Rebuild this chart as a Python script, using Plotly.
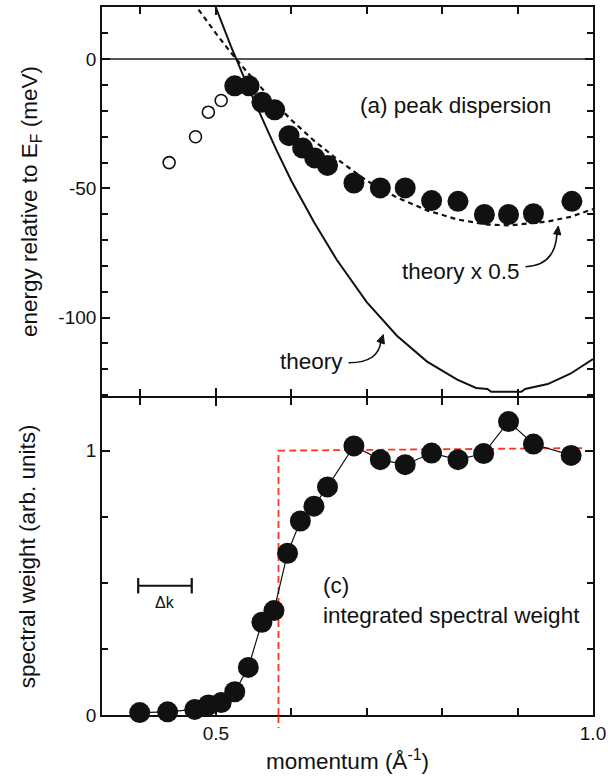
import plotly.graph_objects as go

# ---------------- data ----------------
# (a) peak dispersion: open circles (weak peaks) and filled circles
open_k = [0.438, 0.473, 0.490, 0.507]
open_E = [-40.0, -30.0, -20.5, -16.0]

peak_k = [0.525, 0.544, 0.561, 0.578, 0.597, 0.615, 0.631, 0.648, 0.683,
          0.718, 0.751, 0.786, 0.821, 0.856, 0.888, 0.921, 0.972]
peak_E = [-10.3, -10.3, -16.7, -19.6, -29.6, -34.4, -38.2, -41.1, -47.9,
          -49.8, -49.8, -54.7, -55.0, -60.1, -60.1, -59.8, -55.0]

# theory curve (solid)
theory_k = [0.49, 0.50, 0.52, 0.54, 0.56, 0.58, 0.60, 0.63, 0.66, 0.70, 0.74,
            0.78, 0.82, 0.845, 0.86, 0.865, 0.905, 0.91, 0.94, 0.97, 1.00]
theory_E = [28.0, 20.0, 5.0, -9.0, -22.0, -35.0, -47.0, -63.0, -77.5, -94.0, -107.0,
            -117.0, -124.0, -127.2, -127.6, -128.7, -128.7, -127.6, -125.7, -121.7, -116.0]

# theory x 0.5 curve (dashed)
half_k = [0.47, 0.50, 0.52, 0.54, 0.56, 0.58, 0.60, 0.63, 0.66, 0.70, 0.74,
          0.78, 0.82, 0.86, 0.89, 0.92, 0.94, 0.97, 1.00]
half_E = [22.0, 10.0, 2.5, -4.5, -11.0, -17.5, -23.5, -31.5, -38.5, -47.0, -53.5,
          -58.5, -62.0, -64.0, -64.3, -63.5, -62.8, -61.0, -58.0]

# (c) integrated spectral weight
weight_k = [0.399, 0.436, 0.472, 0.490, 0.507, 0.525, 0.543, 0.561, 0.577, 0.595, 0.612,
            0.630, 0.648, 0.683, 0.718, 0.751, 0.786, 0.821, 0.855, 0.888, 0.921, 0.971]
weight_w = [0.009, 0.012, 0.021, 0.038, 0.047, 0.088, 0.180, 0.351, 0.395, 0.612, 0.734,
            0.790, 0.863, 1.018, 0.966, 0.947, 0.991, 0.966, 0.989, 1.110, 1.025, 0.982]

# red dashed step function
step_k = [0.583, 0.583, 0.987]
step_w = [0.0, 1.00, 1.01]

# momentum resolution bar (Delta k)
dk_k = [0.397, 0.468]
dk_w = [0.489, 0.489]

# tick labels
x_tickvals = [0.5, 1.0]
x_ticktext = ["0.5", "1.0"]
e_tickvals = [-100, -50, 0]
e_ticktext = ["-100", "-50", "0"]
w_tickvals = [0, 1]
w_ticktext = ["0", "1"]

# ---------------- figure ----------------
FONT = "Liberation Sans, Arial, Helvetica, sans-serif"
BLACK = "#111111"
RED = "#ff3322"
W, H = 608, 776
ML, MR, MT, MB = 102, 15, 7, 61
PW, PH = W - ML - MR, H - MT - MB
LW = 1.6  # frame line width


def paper(px, py):
    """pixel position in the page -> paper coordinates (for decorations)"""
    return (px - ML) / PW, (H - MB - py) / PH


fig = go.Figure()

# top panel
fig.add_trace(go.Scatter(x=theory_k, y=theory_E, mode="lines",
                         line=dict(color=BLACK, width=2), xaxis="x", yaxis="y",
                         hoverinfo="skip"))
fig.add_trace(go.Scatter(x=half_k, y=half_E, mode="lines",
                         line=dict(color=BLACK, width=2.2, dash="5px,4px"),
                         xaxis="x", yaxis="y", hoverinfo="skip"))
fig.add_trace(go.Scatter(x=open_k, y=open_E, mode="markers",
                         marker=dict(symbol="circle-open", size=12, color=BLACK,
                                     line=dict(width=1.6, color=BLACK)),
                         xaxis="x", yaxis="y"))
fig.add_trace(go.Scatter(x=peak_k, y=peak_E, mode="markers",
                         marker=dict(symbol="circle", size=21, color=BLACK),
                         xaxis="x", yaxis="y", cliponaxis=False))

# bottom panel
fig.add_trace(go.Scatter(x=step_k, y=step_w, mode="lines",
                         line=dict(color=RED, width=1.8, dash="7px,4px"),
                         xaxis="x2", yaxis="y2", hoverinfo="skip"))
fig.add_trace(go.Scatter(x=weight_k, y=weight_w, mode="lines+markers",
                         line=dict(color=BLACK, width=1.2),
                         marker=dict(symbol="circle", size=21, color=BLACK),
                         xaxis="x2", yaxis="y2", cliponaxis=False))
fig.add_trace(go.Scatter(x=dk_k, y=dk_w, mode="lines+markers",
                         line=dict(color=BLACK, width=2),
                         marker=dict(symbol="line-ns", size=11,
                                     line=dict(width=2.2, color=BLACK)),
                         xaxis="x2", yaxis="y2", hoverinfo="skip"))

split = (H - MB - 397) / PH
gap = (LW / 2) / PH
TOP_DOMAIN = [split + gap, 1.0]
BOT_DOMAIN = [0.0, split - gap]

common_axis = dict(showline=True, linecolor=BLACK, linewidth=LW, mirror="ticks",
                   ticks="inside", ticklen=8, tickwidth=1.5, tickcolor=BLACK,
                   showgrid=False, automargin=False,
                   tickfont=dict(family=FONT, size=19, color=BLACK))
title_font = dict(family=FONT, size=22.5, color=BLACK)

fig.update_layout(
    width=W, height=H,
    margin=dict(l=ML, r=MR, t=MT, b=MB, autoexpand=False),
    paper_bgcolor="white", plot_bgcolor="white",
    showlegend=False,
    font=dict(family=FONT, color=BLACK),
    xaxis=dict(**common_axis, domain=[0, 1], anchor="y", range=[0.349, 1.0],
               tickmode="array", tickvals=x_tickvals, ticktext=x_ticktext,
               showticklabels=False, zeroline=False,
               minor=dict(dtick=0.1, tick0=0, ticks="inside", ticklen=7,
                          tickwidth=1.5, tickcolor=BLACK, showgrid=False)),
    yaxis=dict(**common_axis, domain=TOP_DOMAIN, anchor="x", range=[-130.4, 20.2],
               tickmode="array", tickvals=e_tickvals, ticktext=e_ticktext,
               zeroline=True, zerolinecolor="#555555", zerolinewidth=1.6,
               minor=dict(dtick=10, tick0=0, ticks="inside", ticklen=6,
                          tickwidth=1.5, tickcolor=BLACK, showgrid=False),
               title=dict(text="energy relative to E<sub>F</sub> (meV)",
                          font=title_font, standoff=14)),
    xaxis2=dict(**common_axis, domain=[0, 1], anchor="y2", range=[0.349, 1.0],
                tickmode="array", tickvals=x_tickvals, ticktext=x_ticktext,
                zeroline=False, layer="below traces",
                minor=dict(dtick=0.1, tick0=0, ticks="inside", ticklen=7,
                           tickwidth=1.5, tickcolor=BLACK, showgrid=False),
                title=dict(text="momentum (Å<sup>-1</sup>)",
                           font=title_font, standoff=11)),
    yaxis2=dict(**common_axis, domain=BOT_DOMAIN, anchor="x2", range=[0, 1.2],
                tickmode="array", tickvals=w_tickvals, ticktext=w_ticktext,
                zeroline=False, layer="below traces",
                minor=dict(dtick=0.25, tick0=0, ticks="inside", ticklen=6,
                           tickwidth=1.5, tickcolor=BLACK, showgrid=False),
                title=dict(text="spectral weight (arb. units)",
                           font=title_font, standoff=44)),
)

ann_font = dict(family=FONT, size=22.5, color=BLACK)
annotations = [
    dict(x=0.688, y=-18.0, xref="x", yref="y", text="(a) peak dispersion",
         showarrow=False, xanchor="left", yanchor="middle", font=ann_font),
    dict(x=0.906, y=-82.0, xref="x", yref="y", text="theory x 0.5",
         showarrow=False, xanchor="right", yanchor="middle", font=ann_font),
    dict(x=0.671, y=-116.8, xref="x", yref="y", text="theory",
         showarrow=False, xanchor="right", yanchor="middle", font=ann_font),
    dict(x=0.640, y=0.489, xref="x2", yref="y2", text="(c)",
         showarrow=False, xanchor="left", yanchor="middle", font=ann_font),
    dict(x=0.640, y=0.376, xref="x2", yref="y2", text="integrated spectral weight",
         showarrow=False, xanchor="left", yanchor="middle", font=ann_font),
    dict(x=0.4325, y=0.427, xref="x2", yref="y2", text="Δk",
         showarrow=False, xanchor="center", yanchor="middle",
         font=dict(family=FONT, size=16, color=BLACK)),
]
fig.update_layout(annotations=annotations)


def curve_path(p0, c, p1):
    a, b, d = paper(*p0), paper(*c), paper(*p1)
    return f"M {a[0]:.5f},{a[1]:.5f} Q {b[0]:.5f},{b[1]:.5f} {d[0]:.5f},{d[1]:.5f}"


def head_path(tip, b1, b2):
    t, u, v = paper(*tip), paper(*b1), paper(*b2)
    return (f"M {t[0]:.5f},{t[1]:.5f} L {u[0]:.5f},{u[1]:.5f} "
            f"L {v[0]:.5f},{v[1]:.5f} Z")


shapes = [
    # curved pointer "theory"
    dict(type="path", xref="paper", yref="paper",
         path=curve_path((348.5, 362.7), (378.5, 363.0), (381.0, 341.0)),
         line=dict(color=BLACK, width=1.6)),
    dict(type="path", xref="paper", yref="paper",
         path=head_path((383.3, 334.5), (384.4, 344.0), (377.0, 341.3)),
         fillcolor=BLACK, line=dict(color=BLACK, width=1)),
    # curved pointer "theory x 0.5"
    dict(type="path", xref="paper", yref="paper",
         path=curve_path((525.5, 266.7), (555.5, 265.5), (557.0, 233.0)),
         line=dict(color=BLACK, width=1.6)),
    dict(type="path", xref="paper", yref="paper",
         path=head_path((558.3, 226.0), (560.8, 235.0), (553.6, 233.8)),
         fillcolor=BLACK, line=dict(color=BLACK, width=1)),
    # red dashed step continues a little below the k axis
    dict(type="line", xref="x2", yref="paper",
         x0=step_k[0], x1=step_k[0], y0=paper(0, 716)[1], y1=paper(0, 728)[1],
         line=dict(color=RED, width=1.8, dash="7px,4px")),
]
fig.update_layout(shapes=shapes)

fig.write_html("out.html", config={"displayModeBar": False},
               post_script="document.body.style.margin='0px';")
